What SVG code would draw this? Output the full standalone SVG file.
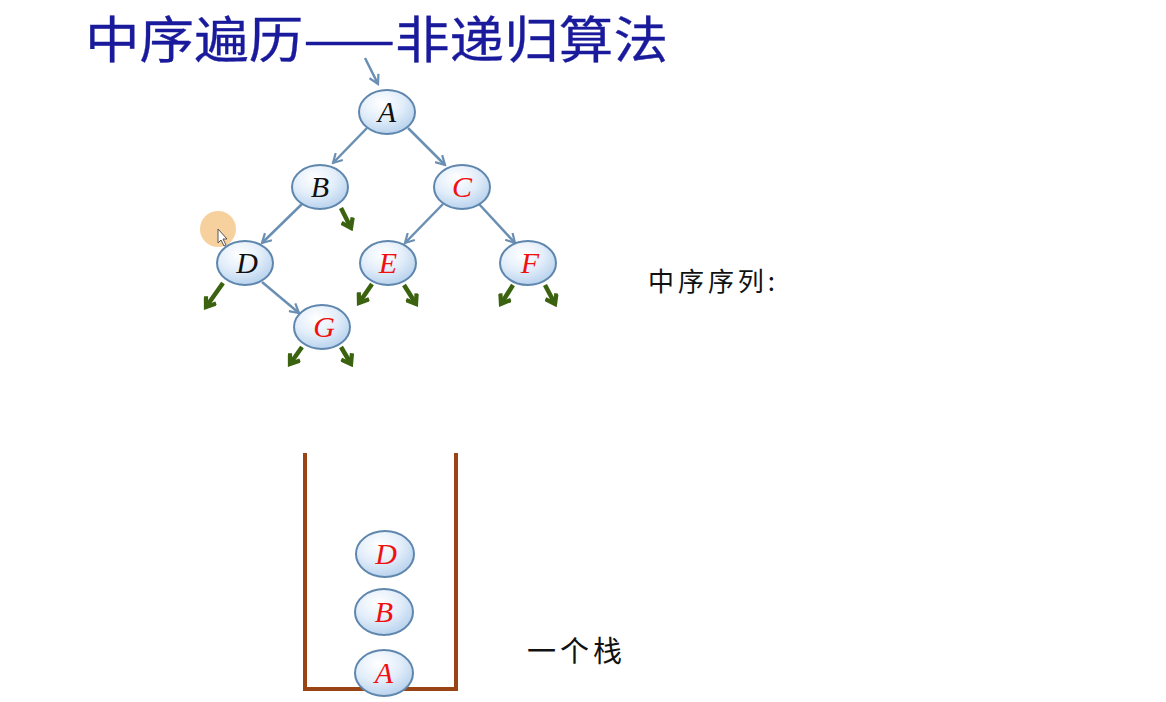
<svg xmlns="http://www.w3.org/2000/svg" width="1166" height="702" viewBox="0 0 1166 702">
<style>
.nd{stroke:#5f87ad;stroke-width:2;fill:url(#g)}
.lt{font-family:"Liberation Serif",serif;font-style:italic;font-size:30px;text-anchor:middle}
.blk{fill:#111}
.red{fill:#f01010}
.ed{stroke:#6a8fb3;stroke-width:2.5;fill:none;marker-end:url(#ab)}
.nl{stroke:#3b620f;stroke-width:4.5;fill:none;marker-end:url(#ag)}
.wall{stroke:#9a4314;stroke-width:4;fill:none}
.cn{font-family:"Noto Sans CJK SC",sans-serif;fill:#111}
</style>
<defs>
<radialGradient id="g" cx="0.4" cy="0.3" r="0.75">
<stop offset="0" stop-color="#ffffff"/>
<stop offset="0.5" stop-color="#e3eefa"/>
<stop offset="1" stop-color="#b3cfec"/>
</radialGradient>
<marker id="ab" viewBox="0 0 12 12" refX="10" refY="6" markerWidth="12" markerHeight="12" markerUnits="userSpaceOnUse" orient="auto">
<polyline points="1,1 10,6 1,11" fill="none" stroke="#6a8fb3" stroke-width="2.2"/>
</marker>
<marker id="ag" viewBox="0 0 12 12" refX="9" refY="6" markerWidth="15" markerHeight="15" markerUnits="userSpaceOnUse" orient="auto">
<polyline points="2,1 9,6 2,11" fill="none" stroke="#3b620f" stroke-width="3.4"/>
</marker>
</defs>
<rect width="1166" height="702" fill="#ffffff"/>
<text x="85" y="58" font-family="'Noto Sans CJK SC',sans-serif" font-size="50" fill="#1a1a9c" stroke="#1a1a9c" stroke-width="0.3" textLength="583" lengthAdjust="spacingAndGlyphs">中序遍历——非递归算法</text>
<g id="connectors">
<line class="ed" x1="365" y1="58" x2="378" y2="84"/>
<line class="ed" x1="367" y1="128" x2="333" y2="163"/>
<line class="ed" x1="408" y1="128" x2="445" y2="165"/>
<line class="ed" x1="302" y1="204" x2="262" y2="243"/>
<line class="ed" x1="443" y1="204" x2="405" y2="243"/>
<line class="ed" x1="479" y1="204" x2="515" y2="243"/>
<line class="ed" x1="262" y1="282" x2="299" y2="313"/>
<line class="nl" x1="341" y1="208" x2="351" y2="228"/>
<line class="nl" x1="223" y1="283" x2="206" y2="307"/>
<line class="nl" x1="372" y1="284" x2="359" y2="303"/>
<line class="nl" x1="404" y1="285" x2="416" y2="304"/>
<line class="nl" x1="513" y1="285" x2="501" y2="304"/>
<line class="nl" x1="545" y1="285" x2="555" y2="304"/>
<line class="nl" x1="302" y1="347" x2="290" y2="364"/>
<line class="nl" x1="341" y1="347" x2="351" y2="364"/>
</g>
<g id="nA"><ellipse class="nd" cx="387" cy="112" rx="28" ry="22"/><text class="lt blk" x="387" y="122">A</text></g>
<g id="nB"><ellipse class="nd" cx="320" cy="187" rx="28" ry="22"/><text class="lt blk" x="320" y="197">B</text></g>
<g id="nC"><ellipse class="nd" cx="462" cy="187" rx="28" ry="22"/><text class="lt red" x="462" y="197">C</text></g>
<g id="nD"><ellipse class="nd" cx="245" cy="263" rx="28" ry="22"/><text class="lt blk" x="247" y="273">D</text></g>
<g id="nE"><ellipse class="nd" cx="388" cy="263" rx="28" ry="22"/><text class="lt red" x="388" y="273">E</text></g>
<g id="nF"><ellipse class="nd" cx="528" cy="263" rx="28" ry="22"/><text class="lt red" x="530" y="273">F</text></g>
<g id="nG"><ellipse class="nd" cx="322" cy="327" rx="28" ry="22"/><text class="lt red" x="324" y="337">G</text></g>
<g id="cursor">
<circle cx="218" cy="229" r="18" fill="#f6c98c" opacity="0.85"/>
<polygon points="218,229 218,243 221,240 224,246 226,245 223,239 227,239" fill="#ffffff" stroke="#555" stroke-width="1"/>
</g>
<text class="cn" x="648" y="291" font-size="26" textLength="127" lengthAdjust="spacing">中序序列:</text>
<g id="stack">
<polyline class="wall" points="305,453 305,689 456,689 456,453"/>
</g>
<g id="sD"><ellipse class="nd" cx="385" cy="554" rx="29" ry="23"/><text class="lt red" x="386" y="564">D</text></g>
<g id="sB"><ellipse class="nd" cx="384" cy="612" rx="29" ry="23"/><text class="lt red" x="384" y="622">B</text></g>
<g id="sA"><ellipse class="nd" cx="384" cy="673" rx="29" ry="23"/><text class="lt red" x="384" y="683">A</text></g>
<text class="cn" x="527" y="662" font-size="29" textLength="95" lengthAdjust="spacing">一个栈</text>
</svg>
